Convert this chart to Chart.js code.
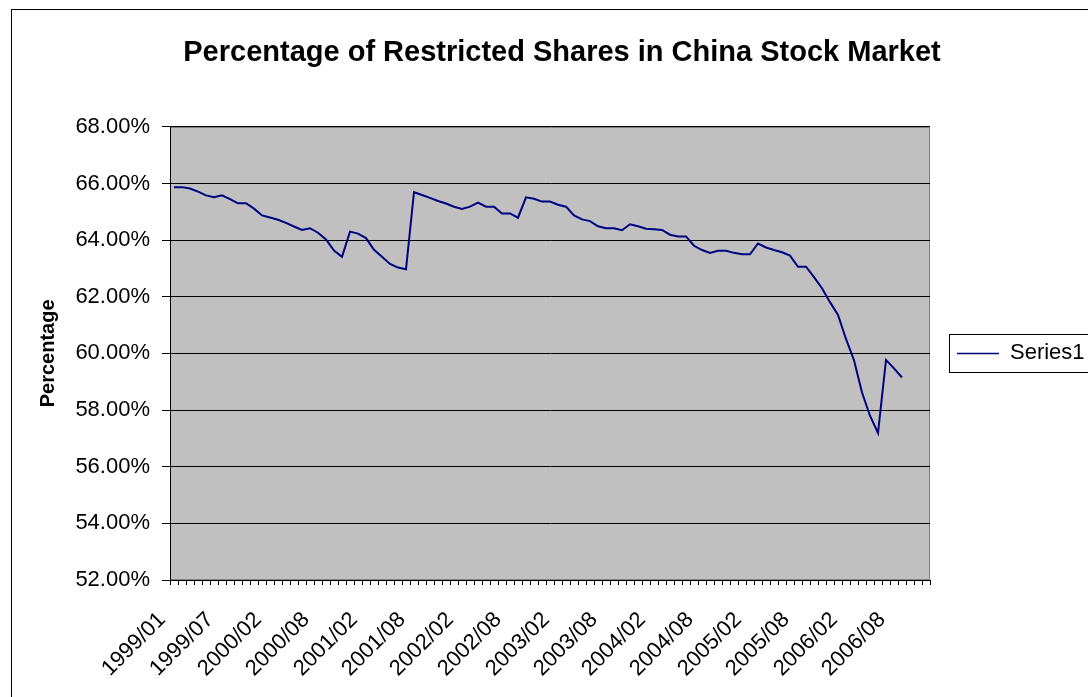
<!DOCTYPE html>
<html>
<head>
<meta charset="utf-8">
<script src="https://cdn.jsdelivr.net/npm/chart.js@4/dist/chart.umd.min.js"></script>
<style>
html,body{margin:0;padding:0;background:#fff;}
#wrap{position:relative;width:1088px;height:697px;}
canvas{display:block;}
</style>
</head>
<body>
<div id="wrap"><canvas id="c" width="1088" height="697"></canvas></div>
<script>
const chartTitle = 'Percentage of Restricted Shares in China Stock Market';
const yAxisTitle = 'Percentage';
const seriesName = 'Series1';

const categories = [
  '1999/01','1999/02','1999/03','1999/04','1999/05','1999/06','1999/07','1999/08','1999/09','1999/10','1999/11','1999/12',
  '2000/02','2000/03','2000/04','2000/05','2000/06','2000/07','2000/08','2000/09','2000/10','2000/11','2000/12',
  '2001/01','2001/02','2001/03','2001/04','2001/05','2001/06','2001/07','2001/08','2001/09','2001/10','2001/11','2001/12',
  '2002/01','2002/02','2002/03','2002/04','2002/05','2002/06','2002/07','2002/08','2002/09','2002/10','2002/11','2002/12',
  '2003/01','2003/02','2003/03','2003/04','2003/05','2003/06','2003/07','2003/08','2003/09','2003/10','2003/11','2003/12',
  '2004/01','2004/02','2004/03','2004/04','2004/05','2004/06','2004/07','2004/08','2004/09','2004/10','2004/11','2004/12',
  '2005/01','2005/02','2005/03','2005/04','2005/05','2005/06','2005/07','2005/08','2005/09','2005/10','2005/11','2005/12',
  '2006/01','2006/02','2006/03','2006/04','2006/05','2006/06','2006/07','2006/08','2006/09','2006/10','2006/11','2006/12'
];

// percent values (null = empty cell)
const restrictedPct = [
  65.87, 65.87, 65.82, 65.71, 65.58, 65.51, 65.58, 65.45, 65.30, 65.30,
  65.11, 64.87, 64.80, 64.72, 64.61, 64.48, 64.36, 64.42, 64.26, 64.02,
  63.63, 63.41, 64.30, 64.23, 64.07, 63.66, 63.41, 63.16, 63.03, 62.97,
  65.69, 65.59, 65.49, 65.38, 65.29, 65.18, 65.10, 65.18, 65.32, 65.18,
  65.18, 64.94, 64.94, 64.79, 65.51, 65.46, 65.36, 65.36, 65.25, 65.18,
  64.87, 64.73, 64.67, 64.49, 64.42, 64.42, 64.35, 64.56, 64.49, 64.40,
  64.38, 64.36, 64.19, 64.13, 64.13, 63.80, 63.65, 63.55, 63.62, 63.62,
  63.55, 63.50, 63.50, 63.88, 63.74, 63.65, 63.57, 63.45, 63.06, 63.06,
  62.69, 62.30, 61.81, 61.36, 60.51, 59.76, 58.62, 57.80, 57.19, 59.77,
  59.47, 59.15, null, null, null
];

const yMin = 52;
const yMax = 68;
const yStep = 2;
const labelEvery = 6;

const FONT = "'Liberation Sans', Arial, Helvetica, sans-serif";

const decorPlugin = {
  id: 'decor',
  beforeDraw(chart) {
    const ctx = chart.ctx;
    const a = chart.chartArea;
    ctx.save();
    ctx.fillStyle = '#ffffff';
    ctx.fillRect(0, 0, chart.width, chart.height);
    ctx.strokeStyle = '#000000';
    ctx.lineWidth = 1;
    ctx.strokeRect(11.5, 9.5, chart.width + 40, chart.height + 40);
    ctx.fillStyle = '#C0C0C0';
    ctx.fillRect(a.left, a.top, a.right - a.left, a.bottom - a.top);
    ctx.strokeStyle = '#808080';
    ctx.strokeRect(Math.round(a.left) + 0.5, Math.round(a.top) + 0.5,
                   Math.round(a.right - a.left) - 1, Math.round(a.bottom - a.top) - 1);
    ctx.restore();
  },
  afterDraw(chart) {
    const lg = chart.legend;
    if (!lg || !lg.legendHitBoxes || !lg.legendHitBoxes.length) return;
    const hb = lg.legendHitBoxes[0];
    const cy = hb.top + hb.height / 2;
    const ctx = chart.ctx;
    ctx.save();
    ctx.strokeStyle = '#000000';
    ctx.lineWidth = 1;
    ctx.strokeRect(Math.round(hb.left - 8) + 0.5, Math.round(cy - 19) + 0.5, 400, 38);
    ctx.restore();
  }
};

new Chart(document.getElementById('c'), {
  type: 'line',
  data: {
    labels: categories,
    datasets: [{
      label: seriesName,
      data: restrictedPct,
      borderColor: '#000080',
      backgroundColor: '#000080',
      borderWidth: 2,
      pointRadius: 0,
      pointHoverRadius: 0,
      tension: 0,
      fill: false,
      spanGaps: false
    }]
  },
  options: {
    responsive: false,
    animation: false,
    devicePixelRatio: 1,
    layout: { padding: { left: 36, top: 0, right: 0, bottom: 0 } },
    plugins: {
      tooltip: { enabled: false },
      title: {
        display: true,
        text: chartTitle,
        color: '#000',
        font: { family: FONT, size: 29, weight: 'bold' },
        padding: { top: 36, bottom: 56 },
        fullSize: true
      },
      legend: {
        display: true,
        position: 'right',
        align: 'center',
        fullSize: false,
        maxWidth: 158,
        labels: {
          color: '#000',
          font: { family: FONT, size: 22 },
          usePointStyle: true,
          pointStyle: 'line',
          pointStyleWidth: 42,
          boxWidth: 42,
          padding: 27,
          generateLabels(chart) {
            const items = Chart.defaults.plugins.legend.labels.generateLabels(chart);
            items.forEach(it => { it.lineWidth = 1.5; it.strokeStyle = '#000080'; it.pointStyle = 'line'; });
            return items;
          }
        }
      }
    },
    scales: {
      x: {
        type: 'category',
        offset: true,
        grid: { offset: true, drawOnChartArea: false, drawTicks: true, tickLength: 5, color: '#000' },
        border: { display: true, color: '#000' },
        ticks: {
          autoSkip: false,
          maxRotation: 45,
          minRotation: 45,
          padding: 22,
          labelOffset: -12,
          color: '#000',
          font: { family: FONT, size: 22 },
          callback(val, idx) { return idx % labelEvery === 0 ? categories[idx] : ''; }
        },
        afterFit(scale) { scale.height = 117; }
      },
      y: {
        min: yMin,
        max: yMax,
        grid: { color: '#000', lineWidth: 1, drawTicks: true, tickLength: 8 },
        border: { display: true, color: '#000' },
        ticks: {
          stepSize: yStep,
          padding: 12,
          color: '#000',
          font: { family: FONT, size: 22 },
          callback(v) { return Number(v).toFixed(2) + '%'; }
        },
        title: {
          display: true,
          text: yAxisTitle,
          color: '#000',
          font: { family: FONT, size: 20, weight: 'bold' },
          padding: { top: 0, bottom: 0 }
        },
        afterFit(scale) { scale.width = 134; }
      }
    }
  },
  plugins: [decorPlugin]
});
</script>
</body>
</html>
